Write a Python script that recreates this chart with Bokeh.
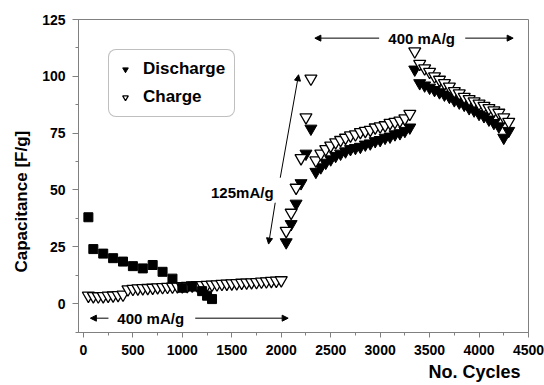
from bokeh.plotting import figure
from bokeh.models import (Range1d, Arrow, NormalHead, Label, Legend, LegendItem,
                          Title, SingleIntervalTicker)
from bokeh.embed import file_html
from bokeh.resources import INLINE

# ---- data ----
sq_x = [50, 100, 200, 300, 400, 500, 600, 700, 800, 900, 1000, 1100, 1200, 1250, 1300]
sq_y = [38, 24, 22, 20, 18.5, 16.5, 15.5, 17, 14, 11, 7, 7.5, 5.5, 3.5, 2]

c1_x = [50, 100, 150, 200, 250, 300, 350, 400, 450, 500, 550, 600, 650, 700, 750, 800,
        850, 900, 950, 1000, 1050, 1100, 1150, 1200, 1250, 1300, 1350, 1400, 1450, 1500,
        1550, 1600, 1650, 1700, 1750, 1800, 1850, 1900, 1950, 2000]
c1_y = [3.5, 3.3, 3.2, 3.3, 3.5, 3.6, 3.8, 4.0, 6.3, 6.5, 6.7, 6.8, 6.9, 7.0, 7.2, 7.3,
        7.4, 7.5, 7.6, 7.7, 7.8, 8.0, 8.1, 8.2, 8.3, 8.4, 8.5, 8.7, 8.8, 8.9,
        9.0, 9.2, 9.3, 9.4, 9.5, 9.7, 9.8, 10.0, 10.1, 10.3]

d2_x = [2050, 2100, 2150, 2200, 2250, 2300]
d2_y = [27, 35, 44, 53, 66, 77]
c2_x = [2050, 2100, 2150, 2200, 2250, 2300]
c2_y = [32, 40, 51, 64, 82, 99]

s3_x = [2350, 2400, 2450, 2500, 2550, 2600, 2650, 2700, 2750, 2800,
        2850, 2900, 2950, 3000, 3050, 3100, 3150, 3200, 3250, 3300]
d3_y = [58, 60, 62, 63.5, 65, 66, 67, 68, 68.5, 69,
        70, 70.5, 71.5, 72, 73, 73.5, 74.5, 75, 76, 77.5]
c3_y = [63, 66, 68, 69.5, 71, 72, 73, 74, 74.5, 75.5,
        76, 76.5, 77.5, 78, 78.5, 79.5, 80, 80.5, 81.5, 83.5]

s4_x = [3350, 3400, 3450, 3500, 3550, 3600, 3650, 3700, 3750, 3800,
        3850, 3900, 3950, 4000, 4050, 4100, 4150, 4200, 4250, 4300]
d4_y = [103, 97, 96, 95, 94, 93, 92, 91, 89.5, 88.5,
        87.5, 86, 85, 83.5, 82.5, 81, 79.5, 78, 73, 76]
c4_y = [111, 105.5, 103.5, 102, 100, 98.5, 97, 95.5, 93.5, 92.5,
        91, 90, 89, 88, 87, 86, 85, 84, 82, 80]

FONT = "Liberation Sans"
GREY = "#808080"

p = figure(frame_width=450, frame_height=313, output_backend="svg", toolbar_location=None,
           x_range=Range1d(-50, 4500), y_range=Range1d(-12.7, 125),
           min_border_left=78, min_border_right=16, min_border_top=19, min_border_bottom=53,
           background_fill_color="white", border_fill_color="white")
p.xgrid.visible = False
p.ygrid.visible = False
p.outline_line_color = GREY
p.outline_line_width = 1

p.xaxis.ticker = SingleIntervalTicker(interval=500, num_minor_ticks=2)
p.yaxis.ticker = SingleIntervalTicker(interval=25, num_minor_ticks=2)
for ax in (p.xaxis, p.yaxis):
    ax.axis_line_color = GREY
    ax.major_tick_line_color = GREY
    ax.minor_tick_line_color = GREY
    ax.major_tick_in = 0
    ax.minor_tick_in = 0
    ax.minor_tick_out = 3
    ax.major_label_text_font = FONT
    ax.major_label_text_font_style = "bold"
    ax.major_label_text_font_size = "14px"
    ax.major_label_text_color = "black"
p.xaxis.major_tick_out = 5
p.yaxis.major_tick_out = 6
p.xaxis.major_label_standoff = 7
p.yaxis.major_label_standoff = 7

ytitle = Title(text="Capacitance [F/g]", align="left", offset=60,
               text_font=FONT, text_font_style="bold", text_font_size="17px",
               text_color="black", standoff=18)
p.add_layout(ytitle, "left")
xtitle = Title(text="No. Cycles", align="right", offset=8,
               text_font=FONT, text_font_style="bold", text_font_size="18px",
               text_color="black", standoff=5)
p.add_layout(xtitle, "below")

# ---- markers ----
p.scatter(c1_x, c1_y, marker="inverted_triangle", size=12, fill_color="white",
          line_color="black", line_width=1.3)
p.scatter(sq_x, sq_y, marker="square", size=9, fill_color="black", line_color="black")
r_d2 = p.scatter(d2_x, d2_y, marker="inverted_triangle", size=12, fill_color="black",
                 line_color="black")
r_d3 = p.scatter(s3_x, d3_y, marker="inverted_triangle", size=12, fill_color="black",
                 line_color="black")
r_d4 = p.scatter(s4_x, d4_y, marker="inverted_triangle", size=12, fill_color="black",
                 line_color="black")
r_c2 = p.scatter(c2_x, c2_y, marker="inverted_triangle", size=12, fill_color="white",
                 line_color="black", line_width=1.3)
r_c3 = p.scatter(s3_x, c3_y, marker="inverted_triangle", size=12, fill_color="white",
                 line_color="black", line_width=1.3)
r_c4 = p.scatter(s4_x, c4_y, marker="inverted_triangle", size=12, fill_color="white",
                 line_color="black", line_width=1.3)

# ---- annotations ----
def arrow(x0, y0, x1, y1):
    p.add_layout(Arrow(end=NormalHead(size=6, fill_color="black", line_color="black"),
                       x_start=x0, y_start=y0, x_end=x1, y_end=y1,
                       line_color="black", line_width=1))

def label(x, y, txt):
    p.add_layout(Label(x=x, y=y, text=txt, text_align="center", text_baseline="middle",
                       text_font=FONT, text_font_style="bold", text_font_size="15px",
                       text_color="black"))

label(3420, 116.8, "400 mA/g")
arrow(2990, 116.8, 2340, 116.8)
arrow(3860, 116.8, 4345, 116.8)

label(680, -6.4, "400 mA/g")
arrow(253, -6.4, 70, -6.4)
arrow(1130, -6.4, 2070, -6.4)

label(1606, 48.8, "125mA/g")
arrow(1990, 55.4, 2175, 100.7)
arrow(1939, 44.4, 1872, 26.2)

legend = Legend(items=[LegendItem(label="Discharge", renderers=[r_d3]),
                       LegendItem(label="Charge", renderers=[r_c3])],
                location="top_left", margin=30, padding=9, spacing=8,
                glyph_width=14, glyph_height=20, label_height=20, label_standoff=11,
                label_text_font=FONT, label_text_font_style="bold",
                label_text_font_size="17px", label_text_color="black",
                border_line_color=GREY, border_line_width=1,
                background_fill_color="white", background_fill_alpha=1)
try:
    legend.border_radius = 8
except Exception:
    pass
p.add_layout(legend)

open("out.html", "w").write(file_html(p, INLINE))
